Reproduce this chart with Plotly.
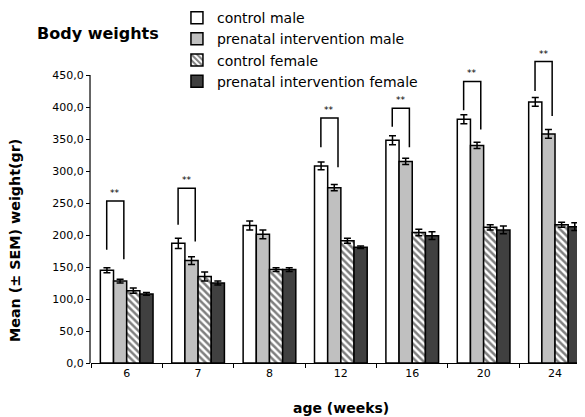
import plotly.graph_objects as go

# ---- data ----
weeks = ["6", "7", "8", "12", "16", "20", "24"]
series_names = ["control male", "prenatal intervention male",
                "control female", "prenatal intervention female"]
control_male = [145, 187, 215, 308, 348, 381, 408]
prenatal_male = [128, 160, 201, 274, 315, 340, 358]
control_female = [113, 135, 146, 191, 204, 212, 216]
prenatal_female = [108, 125, 146, 181, 199, 208, 213]
err_control_male = [4, 8, 7, 6, 7, 7, 7]
err_prenatal_male = [3, 6, 7, 5, 5, 5, 7]
err_control_female = [4, 7, 3, 4, 5, 4, 4]
err_prenatal_female = [2, 3, 3, 2, 6, 6, 6]

# significance brackets (control male vs prenatal male)
sig_weeks = ["6", "7", "12", "16", "20", "24"]
sig_left_base = [177, 216, 337, 369, 395, 425]
sig_top = [253, 273, 383, 398, 440, 471]
sig_right_base = [162, 190, 306, 337, 365, 386]
sig_label = "**"

y_ticks = [0, 50, 100, 150, 200, 250, 300, 350, 400, 450]

# ---- figure ----
fig = go.Figure()
styles = [
    dict(color="white"),
    dict(color="#c0c0c0"),
    dict(color="white", pattern=dict(shape="\\", fgcolor="black", bgcolor="white",
                                     size=5, solidity=0.5)),
    dict(color="#404040"),
]
vals = [control_male, prenatal_male, control_female, prenatal_female]
errs = [err_control_male, err_prenatal_male, err_control_female, err_prenatal_female]
for name, v, e, st in zip(series_names, vals, errs, styles):
    fig.add_trace(go.Bar(
        x=weeks, y=v, name=name,
        marker=dict(line=dict(color="black", width=1.5), **st),
        error_y=dict(type="data", array=e, color="black", thickness=1.5, width=3.5),
    ))

LEFT_OFF, RIGHT_OFF = -0.28, -0.04
shapes = []
annotations = []
for wk, lb, top, rb in zip(sig_weeks, sig_left_base, sig_top, sig_right_base):
    i = weeks.index(wk)
    xl, xr = i + LEFT_OFF, i + RIGHT_OFF
    path = f"M {xl},{lb} L {xl},{top} L {xr},{top} L {xr},{rb}"
    shapes.append(dict(type="path", xref="x", yref="y", path=path,
                       line=dict(color="black", width=1.5)))
    annotations.append(dict(x=(xl + xr) / 2, y=top, xref="x", yref="y",
                            text=sig_label, showarrow=False, yanchor="bottom",
                            yshift=1, font=dict(family="DejaVu Sans", size=9, color="black")))

# y axis line only up to last tick
ymax = 500
shapes.append(dict(type="line", xref="paper", yref="paper", x0=-0.002, x1=-0.002,
                   y0=0, y1=y_ticks[-1] / ymax, line=dict(color="black", width=1.2)))

annotations += [
    dict(text="<b>Body weights</b>", xref="paper", yref="paper", x=-0.113, y=1.031,
         xanchor="left", yanchor="middle", showarrow=False,
         font=dict(family="DejaVu Sans", size=16, color="black")),
    dict(text="<b>Mean (± SEM) weight(gr)</b>", xref="paper", yref="paper",
         x=-0.154, y=0.384, textangle=-90, xanchor="center", yanchor="middle",
         showarrow=False, font=dict(family="DejaVu Sans", size=14.3, color="black")),
    dict(text="<b>age (weeks)</b>", xref="paper", yref="paper", x=0.506, y=-0.141,
         xanchor="center", yanchor="middle", showarrow=False,
         font=dict(family="DejaVu Sans", size=14, color="black")),
]

# the page adds an 8px body margin, so the figure is sized to fit inside the window
fig.update_layout(
    width=577, height=409,
    margin=dict(l=83, r=0, t=35, b=54, autoexpand=False),
    paper_bgcolor="white", plot_bgcolor="white",
    barmode="group", bargap=0.262, bargroupgap=0,
    showlegend=True,
    legend=dict(x=0.174, y=1.128, xanchor="left", yanchor="top",
                font=dict(family="DejaVu Sans", size=14, color="black"),
                bgcolor="rgba(0,0,0,0)", tracegroupgap=0),
    shapes=shapes, annotations=annotations,
    font=dict(family="DejaVu Sans", size=11, color="black"),
)
fig.update_xaxes(type="category", categoryorder="array", categoryarray=weeks,
                 range=[-0.5, 6.42], showline=True, linecolor="black", linewidth=1.2,
                 ticks="outside", tickson="boundaries", ticklen=4, tickcolor="black",
                 showgrid=False, zeroline=False,
                 tickfont=dict(family="DejaVu Sans", size=11, color="black"))
fig.update_yaxes(range=[0, ymax], tickvals=y_ticks,
                 ticktext=[f"{t:.1f}".replace(".", ",") for t in y_ticks],
                 showline=False, ticks="outside", ticklen=4, tickcolor="black",
                 showgrid=False, zeroline=False,
                 tickfont=dict(family="DejaVu Sans", size=11, color="black"))

fig.write_html("out.html")
